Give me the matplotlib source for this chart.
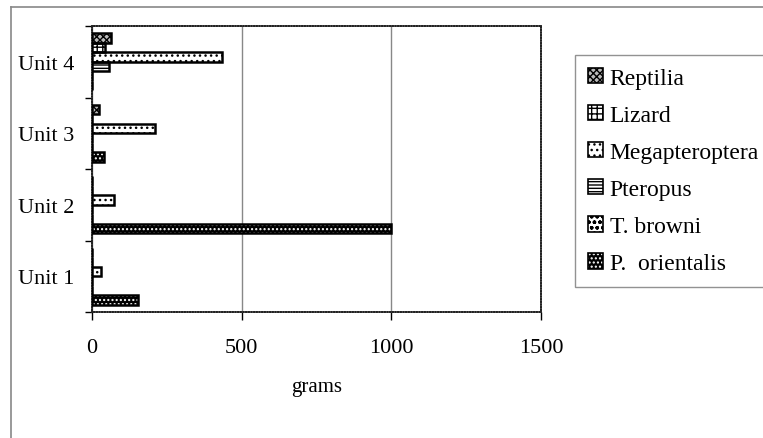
import numpy as np
import matplotlib
matplotlib.use('Agg')
import matplotlib.pyplot as plt
from matplotlib.patches import Patch
from matplotlib.lines import Line2D

plt.rcParams['font.family'] = ['Liberation Serif', 'DejaVu Serif']
plt.rcParams['hatch.linewidth'] = 1.0

# Data (grams)
units = ['Unit 1', 'Unit 2', 'Unit 3', 'Unit 4']
p_orientalis = [155, 1000, 40, 0]
t_browni = [0, 0, 0, 0]
pteropus = [0, 0, 0, 57]
megapteroptera = [29, 73, 210, 435]
lizard = [0, 0, 0, 45]
reptilia = [0, 0, 25, 65]

x_ticks = [0, 500, 1000, 1500]

# series in drawing order (bottom of each group first)
series = [
    ('P.  orientalis', p_orientalis, 'black', 'white', '....'),
    ('T. browni', t_browni, 'white', 'black', 'ooo'),
    ('Pteropus', pteropus, 'white', 'black', '-----'),
    ('Megapteroptera', megapteroptera, 'white', 'black', '...'),
    ('Lizard', lizard, 'white', 'black', '+++'),
    ('Reptilia', reptilia, '#bbbbbb', 'black', 'xxxxx'),
]

fig = plt.figure(figsize=(7.63, 4.39), dpi=100)
ax = fig.add_axes([92 / 763, 1 - 313 / 439, 449 / 763, 286 / 439])

pos = np.arange(len(units))
h = 1 / 7.5
handles = []
labels = []
for i, (name, vals, face, hcol, hatch) in enumerate(series):
    yy = pos - 0.4 + h * (i + 0.5)
    ax.barh(yy, vals, height=h, color=face, edgecolor=hcol, hatch=hatch,
            linewidth=0, zorder=3)
    ax.barh(yy, vals, height=h, fill=False, edgecolor='black',
            linewidth=1.8, zorder=4)
    handles.append((Patch(facecolor=face, edgecolor=hcol, hatch=hatch, linewidth=0),
                    Patch(fill=False, edgecolor='black', linewidth=1.2)))
    labels.append(name)

ax.set_xlim(0, 1500)
ax.set_ylim(-0.5, len(units) - 0.5)
ax.set_xticks(x_ticks)
ax.set_xticklabels([str(t) for t in x_ticks], fontsize=16)
ax.set_yticks(pos)
ax.set_yticklabels(units, fontsize=16)
ax.set_yticks(np.arange(len(units) + 1) - 0.5, minor=True)
ax.tick_params(axis='y', which='major', length=0, pad=13)
ax.tick_params(axis='y', which='minor', length=5, width=1, direction='out')
ax.tick_params(axis='x', length=6, width=1, direction='out', pad=13)
ax.grid(axis='x', color='#888888', linewidth=1, zorder=0)
ax.set_axisbelow(True)

for sp in ax.spines.values():
    sp.set_linestyle((0, (1, 0.6)))
    sp.set_color('#222222')
    sp.set_linewidth(1.2)

ax.set_xlabel('grams', fontsize=15, labelpad=14)

leg = fig.legend(handles[::-1], labels[::-1], loc='upper left',
                 bbox_to_anchor=(575 / 763, 1 - 56 / 439),
                 borderaxespad=0, fontsize=17, frameon=True, fancybox=False,
                 edgecolor='#777777', handlelength=0.62, handleheight=0.62,
                 handletextpad=0.3, labelspacing=0.68, borderpad=0.55)
leg.get_frame().set_linewidth(1)

# outer chart border (top and left edges visible)
fig.add_artist(Line2D([11 / 763, 1.0], [1 - 8 / 439, 1 - 8 / 439],
                      transform=fig.transFigure, color='#888888', linewidth=1.2))
fig.add_artist(Line2D([11 / 763, 11 / 763], [0, 1 - 8 / 439],
                      transform=fig.transFigure, color='#888888', linewidth=1.2))

fig.savefig('out.png', dpi=100)
